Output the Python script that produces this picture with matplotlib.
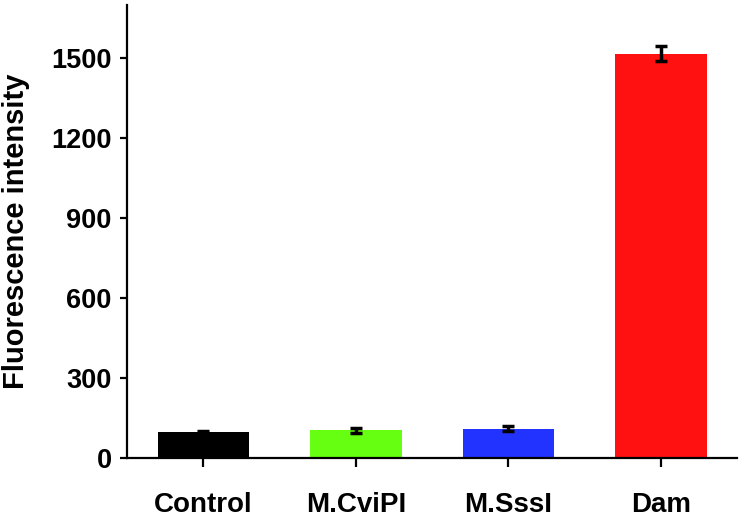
import matplotlib
matplotlib.use("Agg")
import matplotlib.pyplot as plt

categories = ["Control", "M.CviPI", "M.SssI", "Dam"]
values = [98, 104, 110, 1517]
errors = [5, 10, 10, 28]
colors = ["#000000", "#66ff11", "#2233ff", "#ff1111"]
yticks = [0, 300, 600, 900, 1200, 1500]

plt.rcParams["font.family"] = ["Liberation Sans", "DejaVu Sans"]
plt.rcParams["font.weight"] = "bold"

fig = plt.figure(figsize=(7.44, 5.18), dpi=100)
ax = fig.add_axes([0.1707, 0.1158, 0.82, 0.875])

x = range(len(categories))
ax.bar(x, values, width=0.6, color=colors, zorder=2)
ax.errorbar(x, values, yerr=errors, fmt="none", ecolor="black",
            elinewidth=2.5, capsize=4.5, capthick=2.5, zorder=3)

ax.set_xlim(-0.5, 3.5)
ax.set_ylim(0, 1700)
ax.set_xticks(list(x))
ax.set_xticklabels(categories, fontsize=20, fontweight="bold")
ax.set_yticks(yticks)
ax.set_yticklabels([str(t) for t in yticks], fontsize=19.5, fontweight="bold")
ax.set_ylabel("Fluorescence intensity", fontsize=21, fontweight="bold", labelpad=15)

for side in ["top", "right"]:
    ax.spines[side].set_visible(False)
for side in ["left", "bottom"]:
    ax.spines[side].set_linewidth(1.6)

ax.tick_params(axis="x", length=6.5, width=1.6, pad=18)
ax.tick_params(axis="y", length=5, width=1.6, pad=6)

fig.savefig("out.png", dpi=100)
